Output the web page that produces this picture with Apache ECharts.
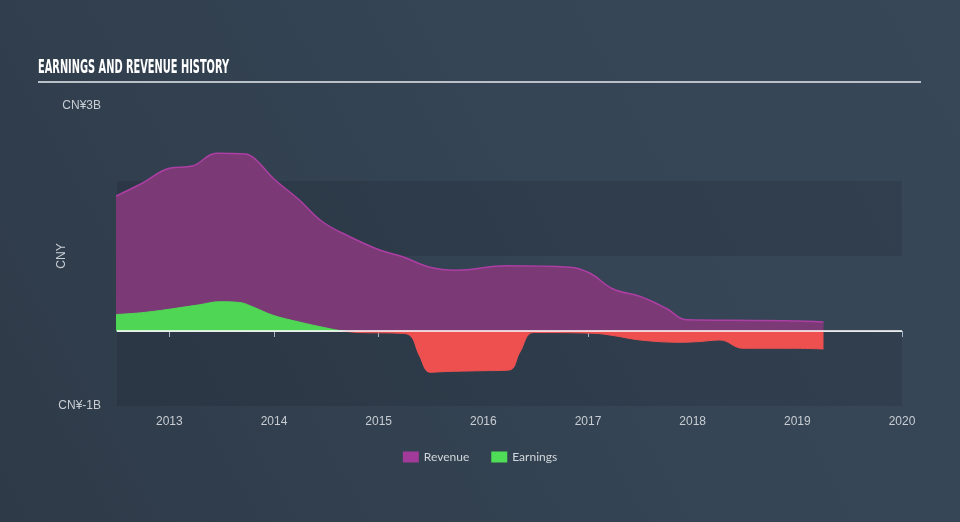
<!DOCTYPE html>
<html>
<head>
<meta charset="utf-8">
<script src="https://cdn.jsdelivr.net/npm/echarts@6/dist/echarts.min.js"></script>
<style>
html,body{margin:0;padding:0;background:#333f4e;}
#c{width:960px;height:522px;}
</style>
</head>
<body>
<div id="c"></div>
<script>
// Data (years as decimal, values in CNY billions)
const revenueYears = [2012.49, 2012.74, 2013.0, 2013.22, 2013.45, 2013.73, 2013.83, 2013.99, 2014.24, 2014.46, 2014.72, 2015.01, 2015.23, 2015.49, 2015.74, 2016.22, 2016.83, 2017.02, 2017.24, 2017.5, 2017.75, 2017.94, 2018.65, 2019.09, 2019.25];
const revenueValues = [1.80, 1.97, 2.17, 2.20, 2.37, 2.36, 2.28, 2.04, 1.75, 1.46, 1.26, 1.08, 0.99, 0.85, 0.81, 0.87, 0.85, 0.77, 0.56, 0.46, 0.30, 0.15, 0.14, 0.13, 0.12];
const earningsYears = [2012.49, 2012.78, 2013.29, 2013.48, 2013.67, 2013.80, 2013.99, 2014.24, 2014.50, 2014.66, 2014.82, 2015.20, 2015.30, 2015.39, 2015.49, 2015.65, 2015.97, 2016.25, 2016.35, 2016.48, 2017.05, 2017.24, 2017.50, 2017.88, 2018.07, 2018.26, 2018.48, 2018.96, 2019.25];
const earningsValues = [0.22, 0.25, 0.35, 0.39, 0.38, 0.32, 0.21, 0.12, 0.04, 0.0, -0.02, -0.03, -0.06, -0.33, -0.55, -0.54, -0.53, -0.52, -0.28, -0.02, -0.03, -0.06, -0.12, -0.15, -0.14, -0.12, -0.23, -0.23, -0.24];
const xTickYears = [2013, 2014, 2015, 2016, 2017, 2018, 2019, 2020];
const yTickLabels = {'3': 'CN¥3B', '-1': 'CN¥-1B'};

const revenueData = revenueYears.map((y, i) => [y, revenueValues[i]]);
const earningsData = earningsYears.map((y, i) => [y, earningsValues[i]]);

const chart = echarts.init(document.getElementById('c'));
chart.setOption({
  backgroundColor: {
    type: 'linear', x: 0, y: 1, x2: 1, y2: 0,
    colorStops: [{offset: 0, color: '#2e3a48'}, {offset: 0.6, color: '#354555'}, {offset: 1, color: '#374757'}]
  },
  animation: false,
  graphic: [{
    type: 'text', left: 38, top: 59, scaleX: 0.575,
    style: {text: 'EARNINGS AND REVENUE HISTORY', fill: '#ffffff', font: 'bold 19px "DejaVu Sans Condensed"'}
  }, {
    type: 'line', shape: {x1: 38, y1: 82, x2: 921, y2: 82},
    style: {stroke: '#b9c0c7', lineWidth: 2}
  }],
  legend: {
    bottom: 54, left: 'center',
    itemWidth: 16, itemHeight: 11, itemGap: 22,
    icon: 'rect',
    textStyle: {color: '#d3d7db', fontSize: 12, fontFamily: 'Lato'},
    data: [
      {name: 'Revenue', itemStyle: {color: '#a23a99'}},
      {name: 'Earnings', itemStyle: {color: '#4fdc57'}}
    ]
  },
  grid: {left: 117, right: 58, top: 106, bottom: 116},
  xAxis: {
    type: 'value', min: 2012.5, max: 2020,
    axisLine: {show: true, lineStyle: {color: '#a9b6c4', width: 1}},
    axisTick: {show: true, customValues: xTickYears, length: 6, lineStyle: {color: '#a9b6c4'}},
    axisLabel: {customValues: xTickYears, color: '#c8cdd3', fontSize: 12, margin: 10, formatter: v => String(Math.round(v))},
    splitLine: {show: false}
  },
  yAxis: {
    type: 'value', min: -1, max: 3, interval: 1,
    name: 'CNY', nameLocation: 'middle', nameGap: 49, nameMoveOverlap: false,
    nameTextStyle: {color: '#c8cdd3', fontSize: 12},
    axisLine: {show: false}, axisTick: {show: false},
    axisLabel: {color: '#c8cdd3', fontSize: 12, margin: 16, formatter: v => yTickLabels[String(v)] || ''},
    splitLine: {show: false},
    splitArea: {show: true, areaStyle: {color: ['rgba(20,30,40,0.18)', 'rgba(0,0,0,0)']}}
  },
  visualMap: {
    show: false, type: 'piecewise', seriesIndex: 1, dimension: 1,
    pieces: [{gte: -2, lt: 0, color: '#ee5050'}, {gte: 0, lte: 3, color: '#4fd655'}]
  },
  series: [
    {
      name: 'Revenue', type: 'line', data: revenueData,
      smooth: 0.4, symbol: 'none',
      lineStyle: {color: '#ad3ea4', width: 1.5},
      itemStyle: {color: '#a23a99'},
      areaStyle: {color: '#7b3a76', opacity: 1},
      markLine: {
        silent: true, symbol: 'none', label: {show: false},
        lineStyle: {color: '#ffffff', width: 1.5, type: 'solid'},
        data: [{yAxis: 0}]
      },
      z: 2
    },
    {
      name: 'Earnings', type: 'line', data: earningsData,
      smooth: 0.4, symbol: 'none',
      lineStyle: {width: 1},
      itemStyle: {color: '#4fd655'},
      areaStyle: {opacity: 1},
      z: 3
    }
  ]
});
</script>
</body>
</html>
